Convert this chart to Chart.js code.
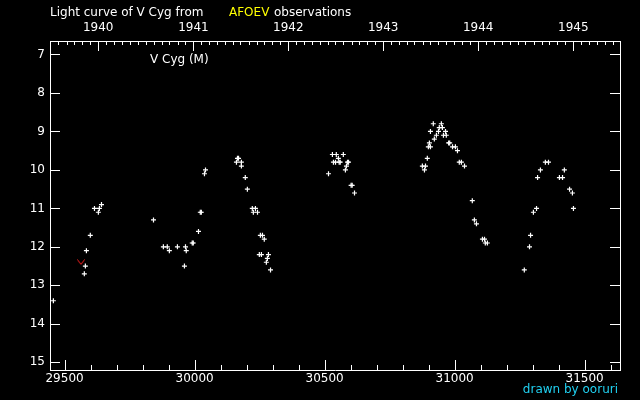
<!DOCTYPE html>
<html><head><meta charset="utf-8">
<script src="https://cdn.jsdelivr.net/npm/chart.js@4/dist/chart.umd.min.js"></script>
<style>html,body{margin:0;padding:0;background:#000;}#wrap{width:640px;height:400px;}</style>
</head><body><div id="wrap"><canvas id="c" width="640" height="400"></canvas></div>
<script>
// Observation dates (JD - 2400000) and visual magnitudes
const obsJD = [29457,29576,29580,29584,29599,29615,29630,29634,29642,
  29842,29880,29895,29903,29934,29961,29965,29968,29991,29995,30015,30022,30026,30038,30042,
  30165,30169,30161,30180,30180,30195,30203,30222,30234,30226,30242,30253,30261,30268,30249,30257,30284,30280,30276,30292,
  30515,30530,30545,30572,30553,30534,30542,30556,30560,30588,30592,30584,30580,30602,30606,30615,
  30876,30884,30888,30895,30899,30903,30907,30907,30918,30922,30930,30938,30941,30949,30953,30957,30965,30968,30977,30981,30992,31003,31011,31018,31026,31038,
  31068,31076,31084,31107,31115,31118,31126,
  31268,31288,31292,31303,31315,31319,31330,31349,31361,31403,31415,31422,31442,31453,31457];
const obsMag = [13.4,12.7,12.5,12.1,11.7,11.0,11.1,11.0,10.9,
  11.3,12.0,12.0,12.1,12.0,12.5,12.0,12.1,11.9,11.9,11.6,11.1,11.1,10.1,10.0,
  9.7,9.7,9.8,9.8,9.9,10.2,10.5,11.0,11.0,11.1,11.1,11.7,11.7,11.8,12.2,12.2,12.2,12.3,12.4,12.6,
  10.1,9.6,9.6,9.6,9.7,9.8,9.8,9.8,9.8,9.8,9.8,9.9,10.0,10.4,10.4,10.6,
  9.9,10.0,9.9,9.7,9.4,9.3,9.4,9.0,8.8,9.2,9.1,9.0,8.9,8.8,8.9,9.1,9.0,9.1,9.3,9.3,9.4,9.4,9.5,9.8,9.8,9.9,
  10.8,11.3,11.4,11.8,11.8,11.9,11.9,
  12.6,12.0,11.7,11.1,11.0,10.2,10.0,9.8,9.8,10.2,10.2,10.0,10.5,10.6,11.0];
// "fainter than" observation
const limitJD = [29563];
const limitMag = [12.4];
// tick labels
const xTickValues = [29500,30000,30500,31000,31500];
const yTickValues = [7,8,9,10,11,12,13,14,15];
const yearLabels = ['1940','1941','1942','1943','1944','1945'];
const yearStartJD = [29629.5,29995.5,30360.5,30725.5,31090.5,31456.5];

const X_MIN = 29444, X_MAX = 31636;
const FONT = {family:'"DejaVu Sans"', size:12};

function jdOfDate(y,m){ return Date.UTC(y,m,1)/86400000 + 2440587.5 - 2400000; }
const monthJD = [];
for (let y=1939;y<=1946;y++) for (let m=0;m<12;m++){ const j=jdOfDate(y,m); if (j>X_MIN && j<X_MAX) monthJD.push(j); }

// red "V" marker
const vMark = document.createElement('canvas');
vMark.width = 8; vMark.height = 6;
(function(){ const g=vMark.getContext('2d'); g.strokeStyle='#ff2020'; g.lineWidth=1;
  g.beginPath(); g.moveTo(0.5,0.5); g.lineTo(4,5); g.lineTo(7.5,0.5); g.stroke(); })();

const decor = {
  id:'decor',
  afterDraw(chart){
    const {ctx, chartArea:a, scales} = chart;
    ctx.save();
    ctx.strokeStyle = '#fff'; ctx.lineWidth = 1;
    ctx.beginPath();
    yTickValues.forEach(v=>{
      const p = Math.round(scales.y.getPixelForValue(v))+0.5;
      ctx.moveTo(a.left,p); ctx.lineTo(a.left+10,p);
      ctx.moveTo(a.right,p); ctx.lineTo(a.right-10,p);
    });
    for (let v=29500; v<X_MAX; v+=100){
      const p = Math.round(scales.x.getPixelForValue(v))+0.5;
      const len = (v%500===0)?10:5;
      ctx.moveTo(p,a.bottom); ctx.lineTo(p,a.bottom-len);
    }
    monthJD.forEach(j=>{
      const p = Math.round(scales.x2.getPixelForValue(j))+0.5;
      const len = yearStartJD.includes(j)?10:4;
      ctx.moveTo(p,a.top); ctx.lineTo(p,a.top+len);
    });
    ctx.stroke();
    ctx.font = '12px "DejaVu Sans"';
    ctx.textBaseline = 'middle';
    ctx.textAlign = 'left';
    ctx.fillStyle = '#fff';
    ctx.fillText('Light curve of V Cyg from', 50, 13);
    ctx.fillStyle = '#ffff00';
    ctx.fillText('AFOEV', 229, 13);
    ctx.fillStyle = '#fff';
    ctx.fillText('observations', 274, 13);
    ctx.fillText('V Cyg (M)', 150, 60);
    ctx.textAlign = 'right';
    ctx.fillStyle = '#20d0f0';
    ctx.fillText('drawn by ooruri', 618, 390);
    ctx.restore();
  }
};

new Chart(document.getElementById('c'), {
  type:'scatter',
  data:{ datasets:[
    { label:'V Cyg', data: obsJD.map((x,i)=>({x, y:obsMag[i]})), pointStyle:'cross',
      radius:2.5, borderColor:'#fff', backgroundColor:'#fff', borderWidth:1.2 },
    { label:'fainter than', data: limitJD.map((x,i)=>({x, y:limitMag[i]})), pointStyle:vMark,
      radius:4, borderColor:'#ff2020', backgroundColor:'#ff2020' }
  ]},
  options:{
    responsive:false, animation:false, devicePixelRatio:1,
    layout:{padding:0},
    plugins:{legend:{display:false}, tooltip:{enabled:false}, title:{display:false}},
    scales:{
      x:{ type:'linear', position:'bottom', min:X_MIN, max:X_MAX,
        grid:{display:true, drawOnChartArea:false, drawTicks:false, color:'#fff'},
        border:{display:true, color:'#fff', width:1},
        ticks:{color:'#fff', font:FONT, padding:2, maxRotation:0, callback:v=>String(v)},
        afterBuildTicks:s=>{ s.ticks = xTickValues.map(v=>({value:v})); },
        afterFit:s=>{ s.height = 30; } },
      x2:{ type:'linear', position:'top', min:X_MIN, max:X_MAX,
        grid:{display:true, drawOnChartArea:false, drawTicks:false, color:'#fff'},
        border:{display:true, color:'#fff', width:1},
        ticks:{color:'#fff', font:FONT, padding:6, maxRotation:0,
          callback:v=>{ const i=yearStartJD.indexOf(v); return i>=0?yearLabels[i]:''; }},
        afterBuildTicks:s=>{ s.ticks = yearStartJD.map(v=>({value:v})); },
        afterFit:s=>{ s.height = 41; } },
      y:{ type:'linear', position:'left', reverse:true, min:6.65, max:15.2,
        grid:{display:true, drawOnChartArea:false, drawTicks:false, color:'#fff'},
        border:{display:true, color:'#fff', width:1},
        ticks:{color:'#fff', font:FONT, padding:5, callback:v=>String(v)},
        afterBuildTicks:s=>{ s.ticks = yTickValues.map(v=>({value:v})); },
        afterFit:s=>{ s.width = 50; } },
      y2:{ type:'linear', position:'right', reverse:true, min:6.65, max:15.2,
        grid:{display:true, drawOnChartArea:false, drawTicks:false, color:'#fff'},
        border:{display:true, color:'#fff', width:1},
        ticks:{display:false},
        afterFit:s=>{ s.width = 20; } }
    }
  },
  plugins:[decor, {id:'bg', beforeDraw(c){ const g=c.ctx; g.save(); g.fillStyle='#000'; g.fillRect(0,0,c.width,c.height); g.restore(); }}]
});
</script></body></html>
